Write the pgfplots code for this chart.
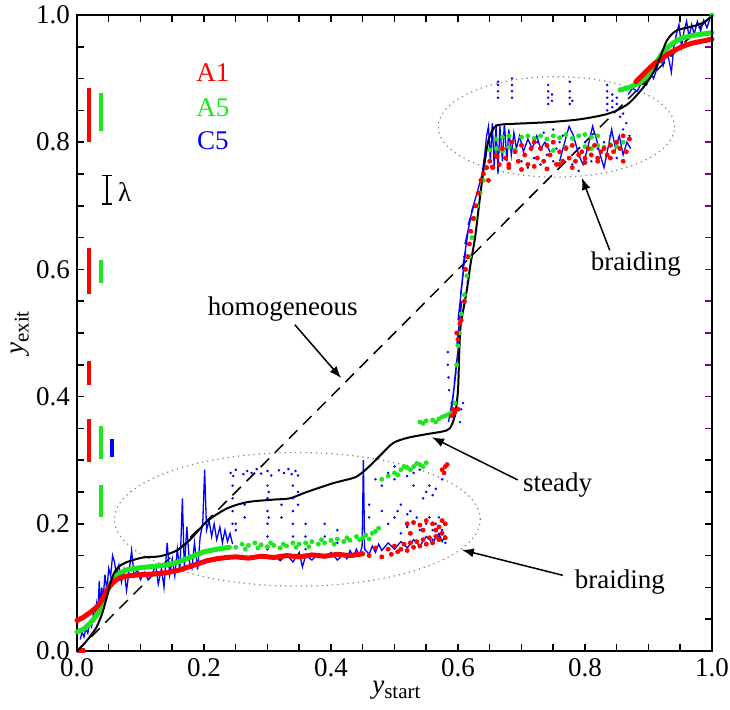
\documentclass[border=0pt]{standalone}
\usepackage{fontspec}
\setmainfont{LiberationSerif}[Extension=.ttf, UprightFont=*-Regular, ItalicFont=*-Italic, BoldFont=*-Bold, BoldItalicFont=*-BoldItalic]
\usepackage{pgfplots}
\pgfplotsset{compat=1.18}
\usetikzlibrary{arrows.meta}
\definecolor{cred}{RGB}{255,0,0}
\definecolor{cgreen}{RGB}{30,230,30}
\definecolor{cblue}{RGB}{0,0,255}
\definecolor{cpurple}{RGB}{130,0,130}
\newcommand\ff{\rmfamily\fontsize{13.5}{16}\selectfont}
\begin{document}
\begin{tikzpicture}
\useasboundingbox (-38.5pt,-29.5pt) rectangle (326.5pt,325.5pt);
\begin{axis}[at={(0,0)}, anchor=south west, scale only axis, width=317.5pt, height=318pt,
  xmin=0, xmax=1, ymin=0, ymax=1, clip=false,
  xtick={0,0.2,0.4,0.6,0.8,1}, ytick={0,0.2,0.4,0.6,0.8,1},
  minor tick num=3, tick align=inside,
  major tick length=3.5pt, minor tick length=3.5pt,
  every tick/.style={black, line width=0.75pt},
  axis line style={line width=0.75pt},
  tick label style={font=\ff},
  /pgf/number format/fixed, /pgf/number format/fixed zerofill,
  /pgf/number format/precision=1, /pgf/number format/assume math mode=true,
  xlabel={\textit{y}\raisebox{-0.45ex}{\fontsize{10.5}{12}\selectfont start}},
  ylabel={\textit{y}\raisebox{-0.45ex}{\fontsize{10.5}{12}\selectfont exit}},
  xlabel style={font=\ff, at={(axis description cs:0.503,-0.061)}, anchor=center},
  ylabel style={font=\ff, at={(axis description cs:-0.09,0.5)}, anchor=center},
]
% homogeneous
\addplot[black, line width=0.75pt, dash pattern=on 6pt off 4pt] coordinates {(0,0) (1,1)};
% ellipses
\draw[gray, line width=0.6pt, dash pattern=on 0.6pt off 2pt] (axis cs:0.347,0.207) ellipse [x radius=0.288, y radius=0.105];
\draw[gray, line width=0.6pt, dash pattern=on 0.6pt off 2pt] (axis cs:0.755,0.824) ellipse [x radius=0.186, y radius=0.079];
% ---- C5 blue ----
\addplot[cblue, line width=0.65pt] table {
0.005 0.018
0.008 0.03
0.011 0.022
0.014 0.035
0.017 0.028
0.02 0.045
0.023 0.038
0.026 0.06
0.028 0.05
0.031 0.075
0.033 0.06
0.035 0.11
0.037 0.07
0.039 0.1
0.041 0.08
0.044 0.12
0.047 0.095
0.05 0.13
0.053 0.118
0.056 0.15
0.059 0.14
0.062 0.12
0.066 0.135
0.07 0.108
0.074 0.128
0.078 0.095
0.082 0.125
0.086 0.158
0.09 0.118
0.095 0.128
0.1 0.112
0.106 0.124
0.112 0.112
0.118 0.12
0.124 0.135
0.128 0.105
0.133 0.13
0.137 0.1
0.142 0.17
0.146 0.12
0.15 0.145
0.154 0.118
0.158 0.16
0.162 0.125
0.166 0.24
0.169 0.13
0.173 0.195
0.177 0.14
0.181 0.13
0.185 0.17
0.19 0.128
0.194 0.18
0.198 0.2
0.201 0.285
0.204 0.19
0.208 0.205
0.212 0.18
0.216 0.2
0.22 0.175
0.225 0.195
0.229 0.17
0.233 0.19
0.237 0.172
0.241 0.185
0.245 0.168
};
\addplot[cblue, line width=0.65pt] table {
0.3 0.145
0.31 0.15
0.32 0.142
0.33 0.152
0.34 0.14
0.35 0.155
0.355 0.132
0.36 0.15
0.37 0.143
0.38 0.153
0.39 0.146
0.4 0.155
0.41 0.143
0.42 0.152
0.425 0.145
0.43 0.158
0.435 0.148
0.44 0.16
0.445 0.15
0.449 0.165
0.451 0.3
0.453 0.16
0.46 0.152
0.465 0.165
0.47 0.155
0.475 0.168
0.48 0.158
0.49 0.17
0.5 0.16
0.51 0.172
0.52 0.162
0.53 0.175
0.54 0.165
0.55 0.18
0.56 0.17
0.57 0.185
0.575 0.172
0.58 0.182
};
\addplot[cblue, line width=0.65pt] table {
0.585 0.36
0.592 0.4
0.588 0.37
0.597 0.44
0.59 0.38
0.6 0.47
0.594 0.42
0.603 0.5
0.598 0.48
0.606 0.55
0.6 0.52
0.609 0.6
0.604 0.56
0.612 0.63
0.607 0.6
0.616 0.66
0.611 0.64
0.62 0.68
0.616 0.67
0.625 0.7
0.621 0.69
0.63 0.72
0.634 0.735
0.638 0.75
0.642 0.78
0.645 0.81
0.648 0.825
0.651 0.77
0.654 0.83
0.657 0.76
0.66 0.828
0.663 0.75
0.666 0.825
0.67 0.77
0.673 0.83
0.677 0.77
0.68 0.82
0.684 0.78
0.688 0.815
0.692 0.79
0.697 0.81
0.703 0.785
0.71 0.805
0.717 0.79
0.724 0.81
0.73 0.79
0.737 0.8
0.745 0.785
};
\addplot[cblue, line width=0.65pt] table {
0.76 0.77
0.768 0.8
0.775 0.825
0.782 0.81
0.79 0.78
0.797 0.765
0.804 0.79
0.812 0.825
0.818 0.805
0.824 0.78
0.83 0.76
0.836 0.79
0.842 0.82
0.848 0.79
0.854 0.81
0.86 0.78
0.866 0.8
0.872 0.79
};
\addplot[cblue, line width=0.65pt] table {
0.868 0.875
0.875 0.885
0.882 0.88
0.89 0.895
0.897 0.89
0.903 0.91
0.908 0.9
0.913 0.915
0.918 0.935
0.923 0.92
0.928 0.945
0.932 0.93
0.936 0.91
0.94 0.95
0.944 0.97
0.948 0.985
0.952 0.95
0.956 0.975
0.96 0.99
0.964 0.965
0.968 0.985
0.972 0.97
0.977 0.99
0.982 0.975
0.987 0.992
0.992 0.98
0.997 0.995
};
\addplot[cblue, only marks, mark=*, mark size=0.4pt] table {
0.242 0.28
0.246 0.275
0.25 0.285
0.262 0.278
0.268 0.283
0.275 0.28
0.283 0.286
0.29 0.279
0.3 0.283
0.306 0.276
0.318 0.284
0.326 0.28
0.333 0.286
0.338 0.278
0.344 0.283
0.348 0.276
0.245 0.26
0.245 0.24
0.245 0.22
0.245 0.2
0.25 0.2
0.25 0.19
0.264 0.21
0.264 0.23
0.3 0.26
0.3 0.24
0.3 0.22
0.3 0.2
0.3 0.18
0.3 0.16
0.302 0.25
0.302 0.21
0.322 0.23
0.322 0.21
0.34 0.26
0.34 0.24
0.34 0.22
0.34 0.2
0.34 0.18
0.348 0.25
0.348 0.23
0.36 0.2
0.36 0.18
0.36 0.16
0.39 0.2
0.39 0.18
0.41 0.19
0.41 0.17
0.46 0.23
0.46 0.21
0.47 0.27
0.48 0.26
0.49 0.28
0.5 0.29
0.51 0.285
0.52 0.29
0.53 0.28
0.54 0.285
0.5 0.27
0.52 0.275
0.53 0.26
0.545 0.24
0.55 0.25
0.555 0.26
0.56 0.245
0.565 0.255
0.58 0.29
0.578 0.28
0.575 0.27
0.5 0.21
0.505 0.22
0.51 0.23
0.52 0.215
0.525 0.22
0.53 0.2
0.535 0.21
0.54 0.19
0.55 0.2
0.555 0.21
0.56 0.19
0.565 0.2
0.57 0.21
0.575 0.19
0.58 0.2
0.52 0.195
0.51 0.185
0.56 0.175
0.57 0.18
0.58 0.17
0.49 0.2
0.48 0.22
0.584 0.47
0.584 0.45
0.585 0.43
0.586 0.41
0.59 0.39
0.595 0.37
0.605 0.38
0.608 0.39
0.603 0.36
0.61 0.62
0.612 0.6
0.615 0.58
0.62 0.66
0.663 0.87
0.663 0.88
0.663 0.89
0.663 0.895
0.685 0.87
0.685 0.88
0.685 0.89
0.685 0.9
0.742 0.86
0.742 0.87
0.742 0.88
0.742 0.89
0.748 0.865
0.748 0.875
0.776 0.86
0.776 0.87
0.776 0.88
0.776 0.895
0.78 0.865
0.835 0.85
0.835 0.86
0.835 0.87
0.835 0.88
0.835 0.89
0.843 0.855
0.843 0.865
0.843 0.875
0.85 0.86
0.85 0.87
0.7 0.77
0.71 0.76
0.72 0.775
0.73 0.765
0.74 0.78
0.75 0.77
0.755 0.79
0.76 0.8
0.765 0.81
0.77 0.79
0.78 0.765
0.79 0.755
0.8 0.8
0.81 0.77
0.82 0.79
0.83 0.8
0.84 0.81
0.85 0.775
0.86 0.82
0.87 0.81
0.865 0.83
0.86 0.845
0.855 0.84
0.725 0.8
0.735 0.815
0.75 0.82
};
% ---- A5 green ----
\addplot[cgreen, line width=2.5pt, line cap=round] table {
0.0 0.03
0.01 0.034
0.02 0.043
0.03 0.055
0.036 0.064
0.042 0.078
0.048 0.095
0.054 0.108
0.06 0.116
0.068 0.123
0.08 0.128
0.1 0.131
0.12 0.133
0.14 0.135
0.16 0.14
0.18 0.148
0.2 0.156
0.22 0.16
0.24 0.163
};
\addplot[cgreen, only marks, mark=*, mark size=1pt] table {
0.25 0.163
0.26 0.168
0.265 0.16
0.27 0.166
0.28 0.17
0.285 0.162
0.29 0.167
0.3 0.164
0.305 0.17
0.31 0.166
0.32 0.162
0.325 0.168
0.33 0.165
0.34 0.17
0.345 0.163
0.35 0.168
0.36 0.17
0.365 0.164
0.37 0.172
0.38 0.168
0.385 0.175
0.39 0.17
0.4 0.174
0.405 0.168
0.41 0.176
0.42 0.172
0.425 0.178
0.43 0.174
0.44 0.18
0.445 0.175
0.45 0.178
0.455 0.182
0.46 0.176
0.465 0.185
0.47 0.188
0.475 0.193
0.48 0.27
0.49 0.275
0.5 0.28
0.51 0.285
0.52 0.288
0.53 0.29
0.54 0.293
0.55 0.296
0.545 0.29
0.505 0.277
0.515 0.29
0.525 0.285
0.535 0.295
0.54 0.36
0.55 0.362
0.56 0.363
0.57 0.365
0.575 0.368
0.58 0.37
0.585 0.372
0.59 0.375
0.545 0.358
0.565 0.36
0.595 0.39
0.598 0.45
0.6 0.48
0.602 0.5
0.605 0.53
0.61 0.56
0.614 0.59
0.618 0.62
0.622 0.65
0.626 0.68
0.63 0.7
0.635 0.72
0.64 0.74
0.645 0.76
0.65 0.788
0.66 0.79
0.67 0.786
0.68 0.792
0.69 0.788
0.7 0.808
0.71 0.81
0.72 0.806
0.73 0.81
0.74 0.805
0.75 0.81
0.76 0.807
0.77 0.812
0.78 0.806
0.79 0.81
0.8 0.812
0.81 0.808
0.82 0.81
0.66 0.805
0.67 0.808
0.68 0.81
0.73 0.79
0.75 0.787
0.77 0.792
0.8 0.793
0.81 0.79
0.82 0.795
0.83 0.792
0.84 0.796
0.85 0.793
0.86 0.8
1.0 1.0
};
\addplot[cgreen, line width=2.5pt, line cap=round] table {
0.855 0.882
0.87 0.886
0.885 0.893
0.898 0.903
0.91 0.922
0.923 0.942
0.935 0.953
0.945 0.96
0.954 0.964
0.97 0.968
0.985 0.97
1.0 0.972
};
% ---- A1 red ----
\addplot[cred, line width=2.5pt, line cap=round] table {
0.0 0.048
0.01 0.053
0.02 0.06
0.03 0.068
0.036 0.075
0.042 0.085
0.048 0.097
0.055 0.106
0.062 0.112
0.07 0.116
0.08 0.118
0.1 0.12
0.12 0.121
0.14 0.123
0.16 0.127
0.175 0.132
0.19 0.137
0.205 0.142
0.22 0.145
0.235 0.147
0.25 0.148
0.27 0.146
0.29 0.149
0.31 0.147
0.33 0.15
0.35 0.148
0.37 0.151
0.39 0.149
0.41 0.152
0.43 0.15
0.45 0.153
};
\addplot[cred, line width=2.5pt] coordinates {(0,0) (0.012,0)};
\addplot[cred, only marks, mark=*, mark size=1pt] table {
0.46 0.15
0.47 0.162
0.48 0.148
0.49 0.16
0.495 0.152
0.5 0.165
0.505 0.156
0.51 0.16
0.515 0.168
0.52 0.158
0.525 0.17
0.53 0.163
0.535 0.172
0.54 0.165
0.545 0.175
0.55 0.168
0.555 0.178
0.56 0.17
0.565 0.18
0.57 0.175
0.575 0.185
0.58 0.178
0.52 0.2
0.53 0.202
0.54 0.198
0.55 0.205
0.56 0.2
0.57 0.195
0.575 0.205
0.58 0.2
0.525 0.185
0.545 0.19
0.565 0.19
0.575 0.285
0.58 0.29
0.583 0.293
0.578 0.28
0.59 0.37
0.592 0.38
0.595 0.375
0.6 0.38
0.598 0.5
0.6 0.49
0.603 0.515
0.605 0.52
0.61 0.55
0.612 0.6
0.615 0.62
0.618 0.64
0.62 0.66
0.624 0.68
0.628 0.7
0.632 0.72
0.636 0.74
0.64 0.75
0.645 0.76
0.648 0.74
0.654 0.761
0.661 0.777
0.65 0.77
0.655 0.76
0.66 0.78
0.665 0.765
0.67 0.79
0.675 0.775
0.68 0.76
0.685 0.8
0.69 0.785
0.695 0.77
0.7 0.795
0.705 0.78
0.71 0.765
0.715 0.79
0.72 0.8
0.725 0.775
0.73 0.79
0.735 0.77
0.74 0.795
0.745 0.78
0.75 0.8
0.755 0.765
0.76 0.785
0.765 0.77
0.77 0.79
0.775 0.775
0.78 0.795
0.785 0.77
0.79 0.78
0.795 0.785
0.8 0.775
0.805 0.79
0.81 0.78
0.815 0.795
0.82 0.775
0.825 0.785
0.83 0.79
0.835 0.78
0.84 0.795
0.845 0.785
0.85 0.8
0.855 0.79
0.86 0.81
0.865 0.785
0.87 0.805
0.68 0.765
0.7 0.757
0.72 0.762
0.74 0.758
0.76 0.765
0.78 0.76
0.8 0.768
0.82 0.77
0.84 0.775
0.86 0.77
};
\addplot[cred, line width=2.5pt, line cap=round] table {
0.88 0.895
0.89 0.905
0.9 0.915
0.91 0.924
0.92 0.93
0.93 0.938
0.94 0.944
0.95 0.949
0.96 0.953
0.97 0.956
0.98 0.958
0.99 0.96
1.0 0.962
};
% ---- steady black ----
\addplot[black, line width=1pt, smooth] table {
0.0 0.0
0.01 0.01
0.02 0.022
0.031 0.038
0.04 0.06
0.047 0.085
0.053 0.108
0.058 0.122
0.065 0.132
0.079 0.14
0.104 0.147
0.131 0.149
0.157 0.158
0.178 0.175
0.205 0.204
0.236 0.224
0.268 0.234
0.309 0.238
0.335 0.24
0.362 0.25
0.404 0.264
0.435 0.272
0.446 0.278
0.46 0.29
0.48 0.31
0.498 0.327
0.52 0.335
0.551 0.341
0.575 0.345
0.587 0.35
0.595 0.37
0.6 0.41
0.602 0.47
0.604 0.51
0.609 0.54
0.614 0.568
0.62 0.61
0.627 0.651
0.633 0.7
0.638 0.74
0.643 0.775
0.648 0.803
0.655 0.82
0.663 0.827
0.69 0.829
0.713 0.83
0.75 0.832
0.792 0.836
0.83 0.843
0.85 0.85
0.87 0.862
0.891 0.885
0.905 0.905
0.913 0.92
0.922 0.943
0.929 0.96
0.937 0.97
0.945 0.976
0.96 0.98
0.976 0.984
0.99 0.99
1.0 1.0
};
% ---- left bars ----
\addplot[cred, line width=2pt] coordinates {(0.019,0.8) (0.019,0.885)};
\addplot[cgreen, line width=2pt] coordinates {(0.038,0.818) (0.038,0.877)};
\addplot[cred, line width=2pt] coordinates {(0.019,0.561) (0.019,0.634)};
\addplot[cgreen, line width=2pt] coordinates {(0.038,0.579) (0.038,0.615)};
\addplot[cred, line width=2pt] coordinates {(0.019,0.418) (0.019,0.456)};
\addplot[cred, line width=2pt] coordinates {(0.019,0.297) (0.019,0.365)};
\addplot[cgreen, line width=2pt] coordinates {(0.038,0.302) (0.038,0.354)};
\addplot[cblue, line width=2pt] coordinates {(0.055,0.305) (0.055,0.333)};
\addplot[cgreen, line width=2pt] coordinates {(0.038,0.211) (0.038,0.261)};
% lambda marker
\addplot[black, line width=0.75pt] coordinates {(0.039,0.748) (0.055,0.748)};
\addplot[black, line width=0.75pt] coordinates {(0.047,0.748) (0.047,0.703)};
\addplot[black, line width=0.75pt] coordinates {(0.039,0.703) (0.055,0.703)};
\node[font=\ff, anchor=base] at (axis cs:0.075,0.706) {λ};
% legend-like labels
\node[font=\ff, text=cred, anchor=base] at (axis cs:0.214,0.895) {A1};
\node[font=\ff, text=cgreen, anchor=base] at (axis cs:0.214,0.840) {A5};
\node[font=\ff, text=cblue, anchor=base] at (axis cs:0.214,0.789) {C5};
% annotations
\node[font=\ff, anchor=base] at (axis cs:0.324,0.527) {homogeneous};
\draw[-{Latex[length=6pt,width=4.5pt]}, line width=0.75pt] (axis cs:0.343,0.513) -- (axis cs:0.416,0.429);
\node[font=\ff, anchor=base] at (axis cs:0.757,0.25) {steady};
\draw[-{Latex[length=6pt,width=4.5pt]}, line width=0.75pt] (axis cs:0.694,0.269) -- (axis cs:0.559,0.336);
\node[font=\ff, anchor=base] at (axis cs:0.855,0.099) {braiding};
\draw[-{Latex[length=6pt,width=4.5pt]}, line width=0.75pt] (axis cs:0.765,0.119) -- (axis cs:0.606,0.159);
\node[font=\ff, anchor=base] at (axis cs:0.88,0.599) {braiding};
\draw[-{Latex[length=6pt,width=4.5pt]}, line width=0.75pt] (axis cs:0.839,0.63) -- (axis cs:0.795,0.744);
\end{axis}
\begin{axis}[at={(0,0)}, anchor=south west, scale only axis, width=317.5pt, height=318pt,
  xmin=0, xmax=1, ymin=0, ymax=1, axis x line=none, axis y line*=right,
  ytick={0.35,0.4,0.45,0.5,0.55,0.6,0.65,0.7,0.75,0.8,0.85,0.9,0.95}, yticklabels={},
  minor tick num=0, tick align=inside, major tick length=3.5pt,
  every tick/.style={cpurple, line width=0.75pt},
  axis line style={line width=0.75pt}]
\addplot[draw=none, forget plot] coordinates {(0,0) (1,1)};
\end{axis}
\end{tikzpicture}
\end{document}
